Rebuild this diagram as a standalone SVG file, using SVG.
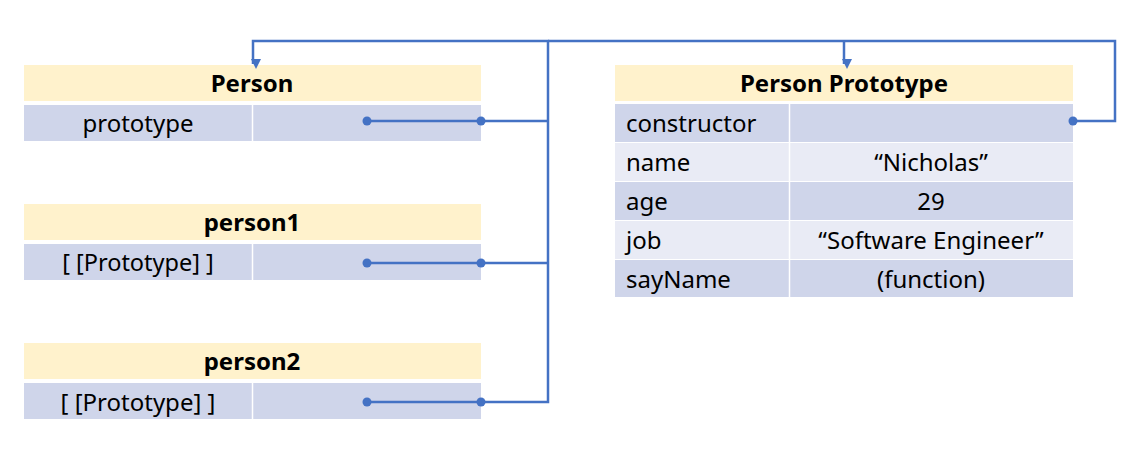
<svg xmlns="http://www.w3.org/2000/svg" width="1135" height="453" viewBox="0 0 1135 453">
<style>
.hd{fill:#FFF2CC}
.dk{fill:#CFD5EA}
.lt{fill:#E9EBF5}
.sep{stroke:#FFFFFF;stroke-width:1.5}
text{font-family:"Noto Sans","Open Sans","Liberation Sans",sans-serif;font-size:24px;fill:#000}
.b{font-weight:bold}
.c{text-anchor:middle}
.con{fill:none;stroke:#4472C4;stroke-width:2.5}
.dot{fill:#4472C4}
</style>
<defs>
<marker id="arr" markerWidth="10" markerHeight="10" refX="5" refY="8" orient="auto" markerUnits="userSpaceOnUse" viewBox="0 0 10 10">
<path d="M0,0 L10,0 L5,10 Z" fill="#4472C4" transform="rotate(-90 5 5)"/>
</marker>
</defs>
<rect width="1135" height="453" fill="#FFFFFF"/>
<g id="person">
<rect class="hd" x="24" y="65" width="457" height="36"/>
<rect class="dk" x="24" y="105" width="457" height="36"/>
<line class="sep" x1="252.5" y1="105" x2="252.5" y2="141"/>
<text class="b c" x="252" y="92">Person</text>
<text class="c" x="138" y="132">prototype</text>
</g>
<g id="person1">
<rect class="hd" x="24" y="204" width="457" height="36"/>
<rect class="dk" x="24" y="244" width="457" height="36"/>
<line class="sep" x1="252.5" y1="244" x2="252.5" y2="280"/>
<text class="b c" x="252" y="231">person1</text>
<text class="c" x="138" y="271" style="font-size:23.5px">[ [Prototype] ]</text>
</g>
<g id="person2">
<rect class="hd" x="24" y="343" width="457" height="36"/>
<rect class="dk" x="24" y="383" width="457" height="36"/>
<line class="sep" x1="252.5" y1="383" x2="252.5" y2="419"/>
<text class="b c" x="252" y="370">person2</text>
<text class="c" x="138" y="411">[ [Prototype] ]</text>
</g>
<g id="person-prototype">
<rect class="hd" x="615" y="65" width="458" height="36"/>
<rect class="dk" x="615" y="104" width="458" height="38"/>
<rect class="lt" x="615" y="143" width="458" height="38"/>
<rect class="dk" x="615" y="182" width="458" height="38"/>
<rect class="lt" x="615" y="221" width="458" height="38"/>
<rect class="dk" x="615" y="260" width="458" height="37"/>
<line class="sep" x1="789.5" y1="104" x2="789.5" y2="297"/>
<text class="b c" x="844" y="92">Person Prototype</text>
<text x="626" y="132">constructor</text>
<text x="626" y="171">name</text>
<text x="626" y="210">age</text>
<text x="626" y="249">job</text>
<text x="626" y="288">sayName</text>
<text class="c" x="931" y="171">“Nicholas”</text>
<text class="c" x="931" y="210">29</text>
<text class="c" x="931" y="249">“Software Engineer”</text>
<text class="c" x="931" y="288">(function)</text>
</g>
<g id="connectors">
<path class="con" d="M367,121 H548"/>
<path class="con" d="M367,263 H548"/>
<path class="con" d="M367,402 H548 V41 H253 V64" marker-end="url(#arr)"/>
<path class="con" d="M844,41 V64" marker-end="url(#arr)"/>
<path class="con" d="M548,41 H1115 V121 H1073"/>
<circle class="dot" cx="367" cy="121" r="4.5"/>
<circle class="dot" cx="481" cy="121" r="4.5"/>
<circle class="dot" cx="367" cy="263" r="4.5"/>
<circle class="dot" cx="481" cy="263" r="4.5"/>
<circle class="dot" cx="367" cy="402" r="4.5"/>
<circle class="dot" cx="481" cy="402" r="4.5"/>
<circle class="dot" cx="1073" cy="121" r="4.5"/>
</g>
</svg>
